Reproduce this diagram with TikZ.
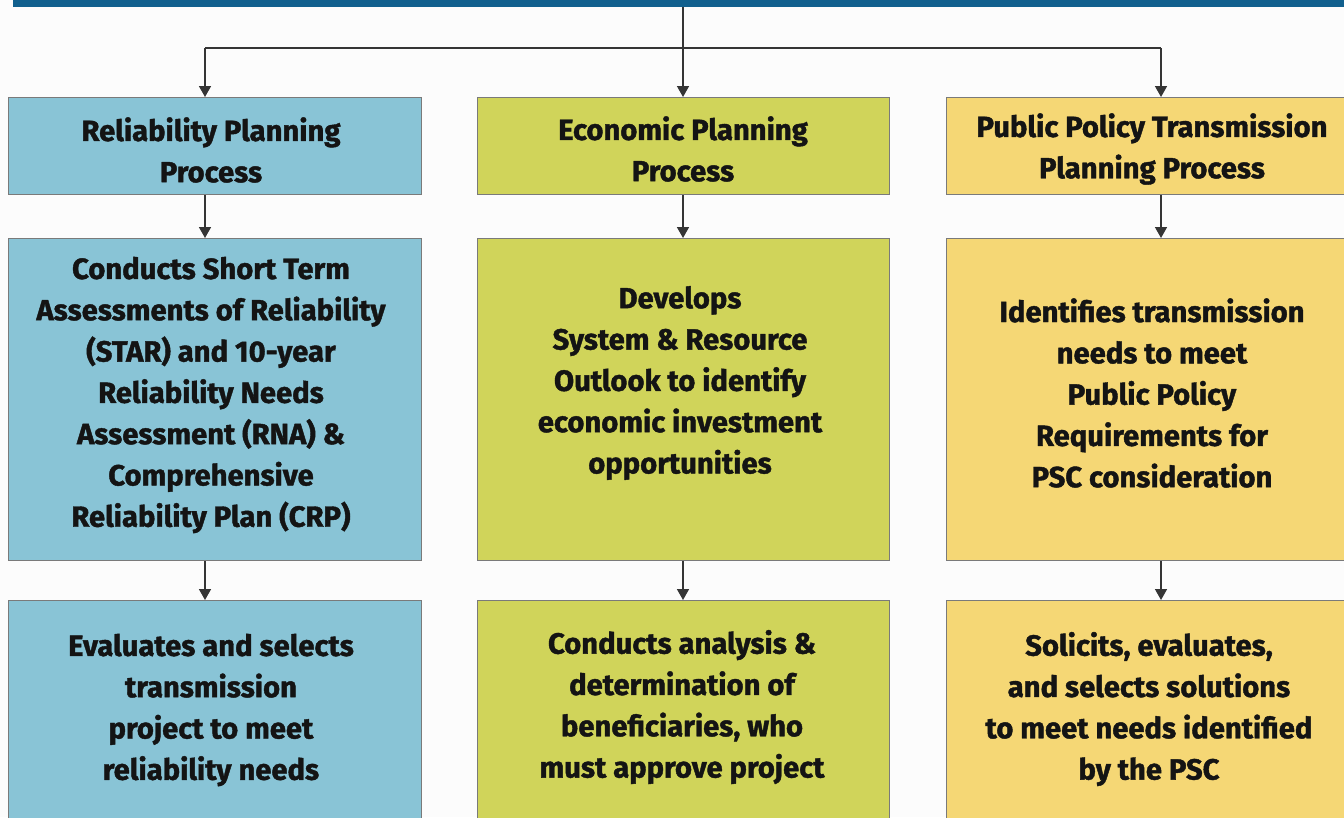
\documentclass[tikz,border=0pt]{standalone}
\usepackage{fontspec}
\setmainfont{Fira Sans}[BoldFeatures={FakeBold=1.4}]
\usetikzlibrary{arrows.meta}
\definecolor{bgc}{HTML}{FCFCFC}
\definecolor{barc}{HTML}{11608E}
\definecolor{relc}{HTML}{89C4D6}
\definecolor{ecoc}{HTML}{D0D45A}
\definecolor{polc}{HTML}{F5D775}
\definecolor{edgec}{HTML}{7A7A7A}
\definecolor{arrc}{HTML}{353535}
\tikzset{
  box/.style={draw=edgec, line width=1.3pt, rectangle, inner sep=0pt, anchor=north west},
  relbox/.style={box, fill=relc},
  ecobox/.style={box, fill=ecoc},
  polbox/.style={box, fill=polc},
  txt/.style={align=center, inner sep=0pt, text=black!92,
    font=\fontsize{29.2}{41.3}\selectfont\bfseries},
  arr/.style={draw=arrc, line width=1.6pt, -{Triangle[width=12pt,length=11pt]}},
  ln/.style={draw=arrc, line width=1.6pt},
}
\begin{document}
\begin{tikzpicture}[x=1pt,y=-1pt]
\clip (0,0) rectangle (1344,817);
\fill[bgc] (0,0) rectangle (1344,817);
% top bar
\node[fill=barc, inner sep=0pt, minimum width=1340pt, minimum height=6.5pt, anchor=north west] (bar) at (13,0) {};
% boxes row 1
\node[relbox, minimum width=413pt, minimum height=97pt] (r1) at (8,97) {};
\node[ecobox, minimum width=412pt, minimum height=97pt] (e1) at (477,97) {};
\node[polbox, minimum width=420pt, minimum height=97pt] (p1) at (946,97) {};
% row 2
\node[relbox, minimum width=413pt, minimum height=322pt] (r2) at (8,238) {};
\node[ecobox, minimum width=412pt, minimum height=322pt] (e2) at (477,238) {};
\node[polbox, minimum width=420pt, minimum height=322pt] (p2) at (946,238) {};
% row 3
\node[relbox, minimum width=413pt, minimum height=240pt] (r3) at (8,600) {};
\node[ecobox, minimum width=412pt, minimum height=240pt] (e3) at (477,600) {};
\node[polbox, minimum width=420pt, minimum height=240pt] (p3) at (946,600) {};
% texts
\node[txt] (r1t) at (211,150) {Reliability Planning\\Process};
\node[txt] (e1t) at (683,149) {Economic Planning\\Process};
\node[txt] (p1t) at (1152,149) {Public Policy Transmission\\Planning Process};
\node[txt] (r2t) at (211,395) {Conducts Short Term\\Assessments of Reliability\\(STAR) and 10-year\\Reliability Needs\\Assessment (RNA) \&\\Comprehensive\\Reliability Plan (CRP)};
\node[txt] (e2t) at (680,383) {Develops\\System \& Resource\\Outlook to identify\\economic investment\\opportunities};
\node[txt] (p2t) at (1152,393) {Identifies transmission\\needs to meet\\Public Policy\\Requirements for\\PSC consideration};
\node[txt] (r3t) at (211,710) {Evaluates and selects\\transmission\\project to meet\\reliability needs};
\node[txt] (e3t) at (682,707) {Conducts analysis \&\\determination of\\beneficiaries, who\\must approve project};
\node[txt] (p3t) at (1149,709) {Solicits, evaluates,\\and selects solutions\\to meet needs identified\\by the PSC};
% column x positions
\coordinate (cA) at (205,48);
\coordinate (cB) at (683,48);
\coordinate (cC) at (1161,48);
% top connectors
\draw[arr] (bar.south -| cB) -- (e1.north -| cB);
\draw[ln] (cA) -- (cC);
\draw[arr] (cA) -- (r1.north -| cA);
\draw[arr] (cC) -- (p1.north -| cC);
% row connectors
\draw[arr] (r1.south -| cA) -- (r2.north -| cA);
\draw[arr] (e1.south -| cB) -- (e2.north -| cB);
\draw[arr] (p1.south -| cC) -- (p2.north -| cC);
\draw[arr] (r2.south -| cA) -- (r3.north -| cA);
\draw[arr] (e2.south -| cB) -- (e3.north -| cB);
\draw[arr] (p2.south -| cC) -- (p3.north -| cC);
\end{tikzpicture}
\end{document}
